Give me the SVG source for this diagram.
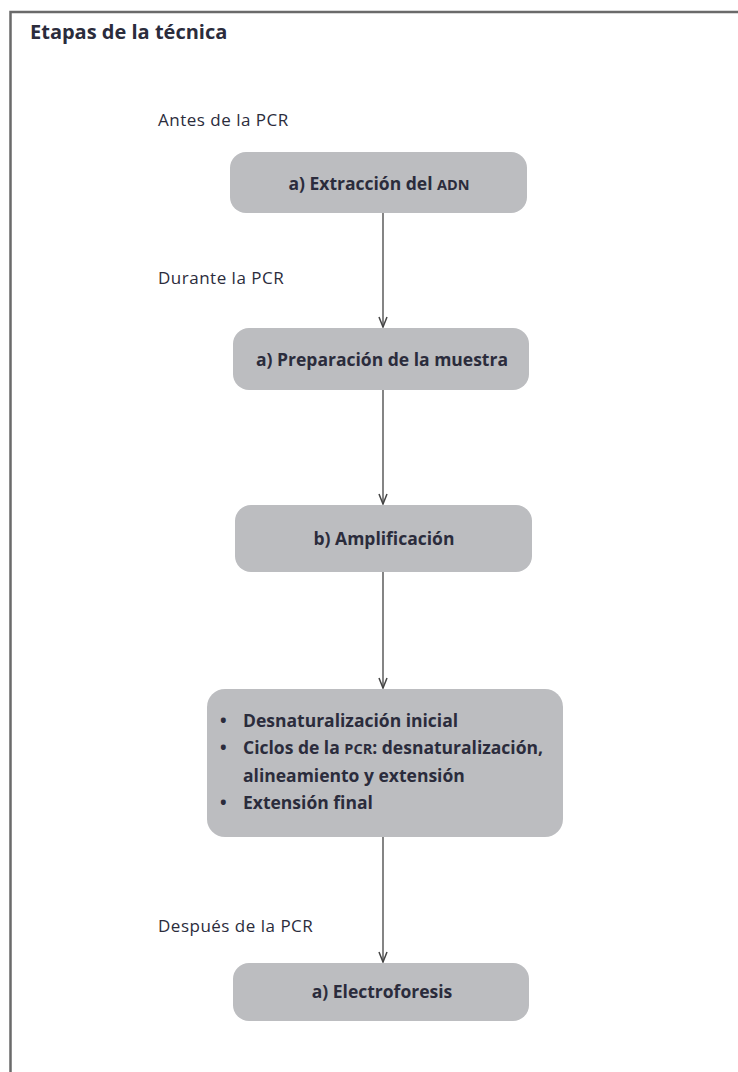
<svg xmlns="http://www.w3.org/2000/svg" width="738" height="1072" viewBox="0 0 738 1072">
  <defs>
    <style>
      .frame { fill: none; stroke: #6a6a6a; stroke-width: 2.5; }
      .title { font-family: "Open Sans", "Noto Sans", sans-serif; font-weight: bold; font-size: 20px; fill: #2b2c3c; }
      .phase { font-family: "Open Sans", "Noto Sans", sans-serif; font-size: 17px; letter-spacing: 0.5px; fill: #2b2c3c; }
      .box { fill: #bcbdc0; }
      .label { font-family: "Open Sans", "Noto Sans", sans-serif; font-weight: bold; font-size: 17.5px; fill: #2b2c3c; text-anchor: middle; }
      .list { font-family: "Open Sans", "Noto Sans", sans-serif; font-weight: bold; font-size: 17.5px; fill: #2b2c3c; }
      .sc { font-size: 14.5px; }
      .conn { stroke: #666666; stroke-width: 1.6; fill: none; }
    </style>
    <marker id="open-arrow" viewBox="0 0 12 10" refX="11" refY="5" markerWidth="12" markerHeight="10" markerUnits="userSpaceOnUse" orient="auto">
      <path d="M1,1 L11,5 L1,9" fill="none" stroke="#444" stroke-width="1.5"/>
    </marker>
  </defs>

  <rect width="738" height="1072" fill="#ffffff"/>
  <!-- outer frame, open on the right and bottom -->
  <path class="frame" d="M10.5,1072 L10.5,12 L738,12"/>

  <text class="title" x="30" y="39">Etapas de la técnica</text>

  <text class="phase" x="158" y="126">Antes de la PCR</text>
  <text class="phase" x="158" y="284">Durante la PCR</text>
  <text class="phase" x="158" y="932">Después de la PCR</text>

  <g id="connectors">
    <line class="conn" x1="383" y1="213" x2="383" y2="327" marker-end="url(#open-arrow)"/>
    <line class="conn" x1="383" y1="390" x2="383" y2="504" marker-end="url(#open-arrow)"/>
    <line class="conn" x1="383" y1="572" x2="383" y2="688" marker-end="url(#open-arrow)"/>
    <line class="conn" x1="383" y1="837" x2="383" y2="962" marker-end="url(#open-arrow)"/>
  </g>

  <g id="extraccion">
    <rect class="box" x="230" y="152" width="297" height="61" rx="16"/>
    <text class="label" x="379" y="190">a) Extracción del <tspan class="sc">ADN</tspan></text>
  </g>

  <g id="preparacion">
    <rect class="box" x="233" y="328" width="296" height="62" rx="16"/>
    <text class="label" x="382" y="366">a) Preparación de la muestra</text>
  </g>

  <g id="amplificacion">
    <rect class="box" x="235" y="505" width="297" height="67" rx="16"/>
    <text class="label" x="384" y="545">b) Amplificación</text>
  </g>

  <g id="etapas-ciclo">
    <rect class="box" x="207" y="689" width="356" height="148" rx="18"/>
    <text class="list" x="220" y="727">•</text>
    <text class="list" x="243" y="727">Desnaturalización inicial</text>
    <text class="list" x="220" y="754">•</text>
    <text class="list" x="243" y="754">Ciclos de la <tspan class="sc">PCR</tspan>: desnaturalización,</text>
    <text class="list" x="243" y="782">alineamiento y extensión</text>
    <text class="list" x="220" y="809">•</text>
    <text class="list" x="243" y="809">Extensión final</text>
  </g>

  <g id="electroforesis">
    <rect class="box" x="233" y="963" width="296" height="58" rx="16"/>
    <text class="label" x="382" y="998">a) Electroforesis</text>
  </g>
</svg>
